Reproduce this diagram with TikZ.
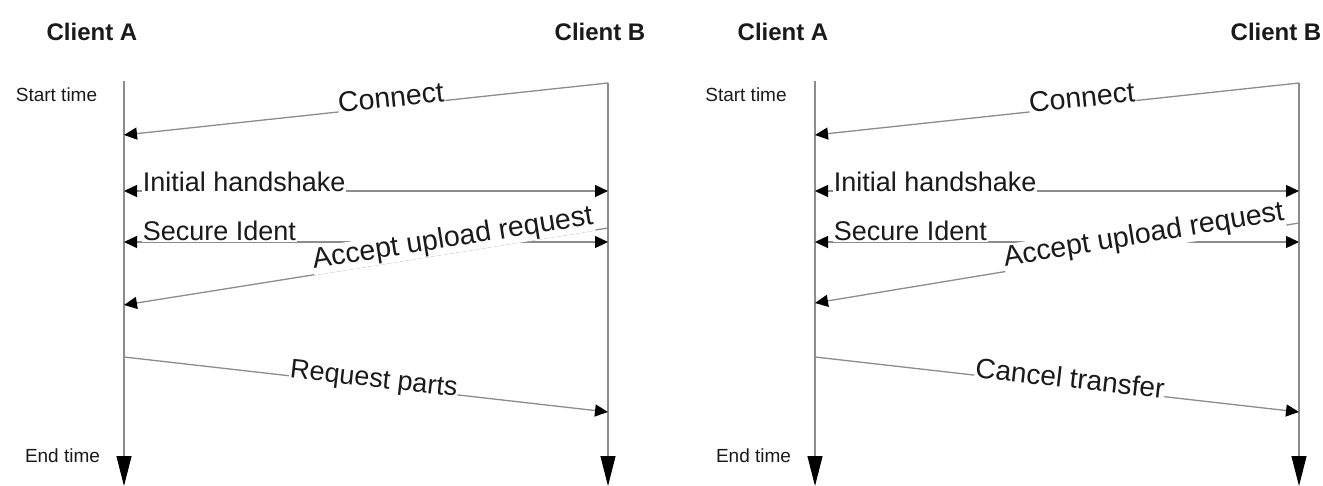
\documentclass[tikz,border=0pt]{standalone}
\usepackage{fontspec}
\setmainfont{Liberation Sans}
\usetikzlibrary{arrows.meta}
\definecolor{linegray}{HTML}{8C8C8C}
\definecolor{txt}{HTML}{1A1A1A}
\tikzset{
  life/.style={draw=linegray, line width=1.1pt, -{Triangle[length=30pt,width=15pt,color=black]}},
  msg/.style={draw=linegray, line width=1.3pt, -{Triangle[length=13pt,width=12pt,color=black]}},
  bimsg/.style={draw=linegray, line width=1.3pt, {Triangle[length=13pt,width=12pt,color=black]}-{Triangle[length=13pt,width=12pt,color=black]}},
  lbl/.style={font=\fontsize{27}{27}\selectfont, text=txt, fill=white, inner sep=0.6pt},
  biglbl/.style={lbl, font=\fontsize{28.5}{28.5}\selectfont},
  head/.style={font=\bfseries\fontsize{24}{24}\selectfont, text=txt, inner sep=0pt},
  tlabel/.style={font=\fontsize{19}{19}\selectfont, text=txt, inner sep=0pt}
}
\begin{document}
\begin{tikzpicture}[x=1pt,y=-1pt]
\useasboundingbox (0,0) rectangle (1323,486);
% ---------------- left panel ----------------
\node[head] (ca1) at (92,32) {Client A};
\node[head] (cb1) at (600,32) {Client B};
\node[tlabel] (st1) at (56.5,95) {Start time};
\node[tlabel] (et1) at (62.5,456) {End time};
\coordinate (A1t) at (124,81);
\coordinate (A1b) at (124,486);
\coordinate (B1t) at (608,83);
\coordinate (B1b) at (608,486);
\draw[life] (A1t) -- (A1b);
\draw[life] (B1t) -- (B1b);
\coordinate (A1c) at (124,135);
\coordinate (A1h) at (124,191);
\coordinate (B1h) at (608,191);
\coordinate (A1s) at (124,242);
\coordinate (B1s) at (608,242);
\coordinate (B1u) at (608,228);
\coordinate (A1u) at (124,305);
\coordinate (A1r) at (124,357);
\coordinate (B1r) at (608,412);
\draw[msg] (B1t) -- (A1c);
\node[biglbl, anchor=base, rotate=6.13] (l1c) at (392,107) {Connect};
\draw[bimsg] (A1h) -- (B1h);
\node[lbl, anchor=base west] (l1h) at (142,192) {Initial handshake};
\draw[bimsg] (A1s) -- (B1s);
\node[lbl, anchor=base west] (l1s) at (142,241) {Secure Ident};
\draw[msg] (B1u) -- (A1u);
\node[biglbl, anchor=base, rotate=9.04] (l1u) at (454,246.5) {Accept upload request};
\draw[msg] (A1r) -- (B1r);
\node[lbl, anchor=base, rotate=-6.48] (l1r) at (373,387) {Request parts};
% ---------------- right panel ----------------
\node[head] (ca2) at (783,32) {Client A};
\node[head] (cb2) at (1276,32) {Client B};
\node[tlabel] (st2) at (746,95) {Start time};
\node[tlabel] (et2) at (753.5,456) {End time};
\coordinate (A2t) at (815,81);
\coordinate (A2b) at (815,486);
\coordinate (B2t) at (1299,83);
\coordinate (B2b) at (1299,486);
\draw[life] (A2t) -- (A2b);
\draw[life] (B2t) -- (B2b);
\coordinate (A2c) at (815,135);
\coordinate (A2h) at (815,191);
\coordinate (B2h) at (1299,191);
\coordinate (A2s) at (815,242);
\coordinate (B2s) at (1299,242);
\coordinate (B2u) at (1299,223);
\coordinate (A2u) at (815,303);
\coordinate (A2r) at (815,357);
\coordinate (B2r) at (1299,412);
\draw[msg] (B2t) -- (A2c);
\node[biglbl, anchor=base, rotate=6.13] (l2c) at (1083,107) {Connect};
\draw[bimsg] (A2h) -- (B2h);
\node[lbl, anchor=base west] (l2h) at (833,192) {Initial handshake};
\draw[bimsg] (A2s) -- (B2s);
\node[lbl, anchor=base west] (l2s) at (833,241) {Secure Ident};
\draw[msg] (B2u) -- (A2u);
\node[biglbl, anchor=base, rotate=9.39] (l2u) at (1145,243) {Accept upload request};
\draw[msg] (A2r) -- (B2r);
\node[lbl, anchor=base, rotate=-6.48, font=\fontsize{28}{28}\selectfont] (l2r) at (1069,388) {Cancel transfer};
\end{tikzpicture}
\end{document}
